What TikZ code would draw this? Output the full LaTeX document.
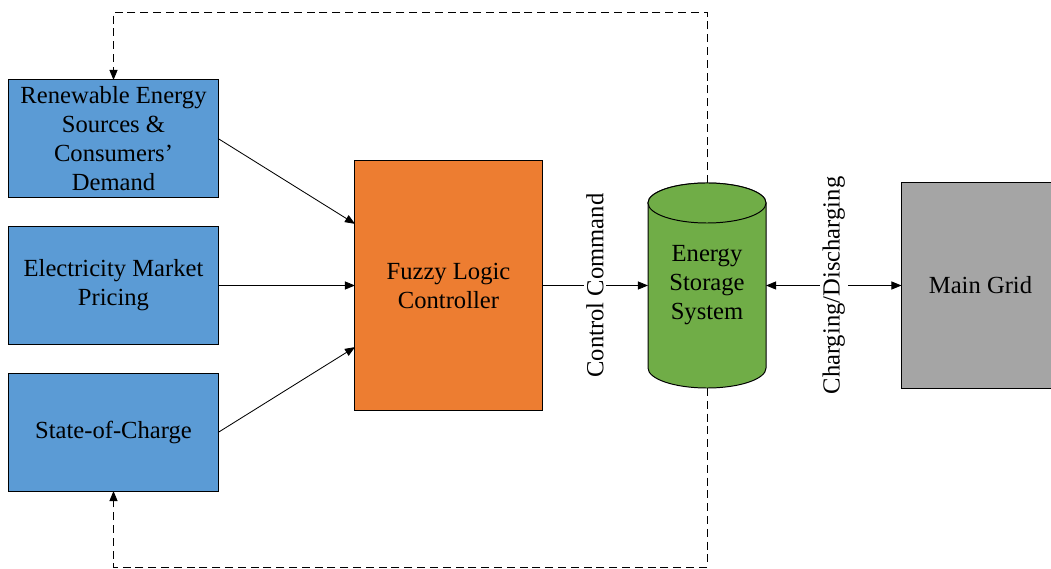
\documentclass[tikz,border=0pt]{standalone}
\usepackage{fontspec}
\setmainfont{Liberation Serif}
\usetikzlibrary{arrows.meta}

\definecolor{boxblue}{HTML}{5B9BD5}
\definecolor{boxorange}{HTML}{ED7D31}
\definecolor{boxgreen}{HTML}{70AD47}
\definecolor{boxgray}{HTML}{A5A5A5}

\begin{document}
\begin{tikzpicture}[x=0.025cm,y=-0.025cm,
    font=\fontsize{17.5}{20.6}\selectfont,
    block/.style={draw=black,line width=0.7pt,align=center,inner sep=0pt,outer sep=0pt},
    input/.style={block,fill=boxblue,minimum width=5.225cm,minimum height=2.925cm},
    arr/.style={-{Triangle[length=2.5mm,width=2mm]},line width=0.6pt},
    arrboth/.style={{Triangle[length=2.5mm,width=2mm]}-{Triangle[length=2.5mm,width=2mm]},line width=0.6pt},
    fb/.style={arr,dash pattern=on 0.2cm off 0.12cm},
    tag/.style={rotate=90,fill=white,inner sep=2pt}]
    \path[use as bounding box,clip] (0,0) rectangle (1051,569);
    % Inputs
    \node[input] (res) at (113.5,138.5) {Renewable Energy\\Sources \&\\Consumers’\\Demand};
    \node[input] (price) at (113.5,285.5) {Electricity Market\\Pricing};
    \node[input] (soc) at (113.5,432.5) {State-of-Charge};
    % Controller
    \node[block,fill=boxorange,minimum width=4.675cm,minimum height=6.225cm] (flc) at (448.5,285.5) {Fuzzy Logic\\Controller};
    % Feedback loop through the storage
    \coordinate (esstop) at (707,183);
    \coordinate (essbot) at (707,388);
    \draw[fb] (esstop) -- ++(0,-171) -| (res.north);
    \draw[fb] (essbot) -- ++(0,179) -| (soc.south);
    % Storage cylinder
    \filldraw[fill=boxgreen,line width=0.7pt] (648,203) -- (648,368)
        arc[start angle=180,end angle=360,x radius=1.475cm,y radius=0.5cm]
        -- (766,203) arc[start angle=0,end angle=180,x radius=1.475cm,y radius=0.5cm] -- cycle;
    \filldraw[fill=boxgreen,line width=0.7pt] (707,203) ellipse[x radius=1.475cm,y radius=0.5cm];
    \node[align=center,inner sep=0pt,outer sep=0pt,minimum width=2.95cm,minimum height=4.125cm] (ess) at (707,285.5) {Energy\\Storage\\System};
    % Grid
    \node[block,fill=boxgray,minimum width=3.95cm,minimum height=5.125cm] (grid) at (980.5,285.5) {Main Grid};
    % Signals
    \draw[arr] (res.east) -- ([yshift=1.54cm]flc.west);
    \draw[arr] (price) -- (flc);
    \draw[arr] (soc.east) -- ([yshift=-1.54cm]flc.west);
    \draw[arr] (flc) -- node[tag] {Control Command} (ess);
    \draw[arrboth] (ess) -- node[tag] {Charging/Discharging} (grid);
\end{tikzpicture}
\end{document}
